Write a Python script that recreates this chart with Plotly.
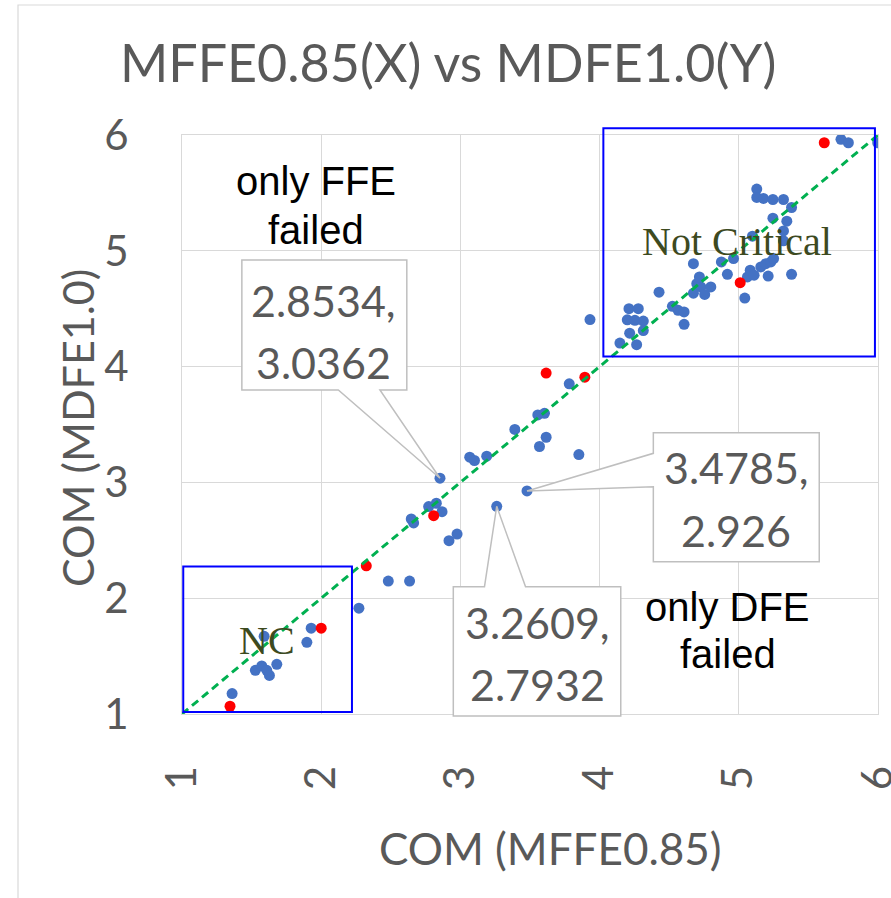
import plotly.graph_objects as go

# ---- data -------------------------------------------------------------
# COM values: x = MFFE0.85, y = MDFE1.0
blue_x = [1.360, 1.527, 1.573, 1.609, 1.628, 1.681, 1.590, 1.897, 1.928, 2.271,
          2.482, 2.635, 2.647, 2.664, 2.772, 2.827, 2.868, 2.8534, 2.918, 2.976,
          3.067, 3.101, 3.189, 3.2609, 3.4785, 3.391, 3.556, 3.604, 3.616, 3.568,
          3.782, 3.851, 3.931,
          4.146, 4.266, 4.216, 4.199, 4.254, 4.314, 4.314, 4.211, 4.278, 4.427,
          4.523, 4.564, 4.607, 4.607, 4.674, 4.698, 4.727, 4.755, 4.799, 4.717,
          4.674, 4.875, 4.962, 4.918, 5.043, 5.062, 5.082, 5.110, 5.158, 5.194,
          5.230, 5.250, 5.211, 5.379, 5.098, 5.321, 5.321, 5.345, 5.245, 5.379,
          5.129, 5.129, 5.177, 5.245, 5.321, 5.734, 5.787, 5.998]
blue_y = [1.176, 1.377, 1.415, 1.377, 1.333, 1.429, 1.671, 1.619, 1.741, 1.914,
          2.148, 2.148, 2.684, 2.650, 2.791, 2.820, 2.747, 3.0362, 2.497, 2.554,
          3.218, 3.189, 3.226, 2.7932, 2.926, 3.457, 3.583, 3.597, 3.390, 3.310,
          3.851, 3.240, 4.406,
          4.203, 4.189, 4.289, 4.404, 4.400, 4.393, 4.311, 4.500, 4.500, 4.643,
          4.521, 4.486, 4.472, 4.365, 4.634, 4.716, 4.688, 4.623, 4.688, 4.774,
          4.889, 4.904, 4.933, 4.797, 4.592, 4.774, 4.832, 4.789, 4.861, 4.889,
          4.904, 4.933, 4.782, 4.797, 5.126, 5.086, 5.172, 5.256, 5.282, 5.374,
          5.533, 5.461, 5.452, 5.443, 5.443, 5.963, 5.933, 5.933]

red_x = [1.345, 2.000, 2.324, 2.808, 3.616, 3.894, 5.010, 5.614]
red_y = [1.067, 1.741, 2.280, 2.713, 3.944, 3.909, 4.725, 5.933]

diag = [1, 6]                      # y = x reference line

# points that carry a value callout
callout_pts = [(2.8534, 3.0362), (3.4785, 2.926), (3.2609, 2.7932)]

tick_vals = [1, 2, 3, 4, 5, 6]

# ---- layout helpers ---------------------------------------------------
X0, X1, Y0, Y1 = 1.0, 6.0, 1.0, 6.0
W, H = 891, 898
ML, MR, MT, MB = 182, 13, 135, 184
PW, PH = W - ML - MR, H - MT - MB


def px(x):       # data x -> paper
    return (x - X0) / (X1 - X0)


def py(y):       # data y -> paper
    return (y - Y0) / (Y1 - Y0)


def pix_x(p):    # pixel column -> paper
    return (p - ML) / PW


def pix_y(p):    # pixel row -> paper
    return (H - MB - p) / PH


GREY = "#595959"
NUM_FONT = "Lato, 'Open Sans', sans-serif"

fig = go.Figure()

fig.add_trace(go.Scatter(x=blue_x, y=blue_y, mode="markers",
                         marker=dict(color="#4472C4", size=11, line=dict(width=0)),
                         hoverinfo="x+y"))
fig.add_trace(go.Scatter(x=red_x, y=red_y, mode="markers",
                         marker=dict(color="#FF0000", size=11, line=dict(width=0)),
                         hoverinfo="x+y"))
fig.add_trace(go.Scatter(x=diag, y=diag, mode="lines",
                         line=dict(color="#00B050", width=3, dash="8px,5px"),
                         hoverinfo="skip"))

shapes = []
annotations = []

# outer chart frame
shapes.append(dict(type="rect", xref="paper", yref="paper",
                   x0=pix_x(18), x1=pix_x(905), y0=pix_y(5), y1=pix_y(910),
                   line=dict(color="#d9d9d9", width=1.2), fillcolor="rgba(0,0,0,0)",
                   layer="below"))

# region boxes
shapes.append(dict(type="rect", xref="paper", yref="paper",
                   x0=px(4.027), x1=px(5.978), y0=py(4.088), y1=py(6.058),
                   line=dict(color="#0000FF", width=2)))
shapes.append(dict(type="rect", xref="paper", yref="paper",
                   x0=px(1.009), x1=px(2.221), y0=py(1.017), y1=py(2.274),
                   line=dict(color="#0000FF", width=2)))

# callout boxes: (left, right, bottom, top) in data units, wedge side and base span
callouts = [
    dict(box=(1.430, 2.615, 3.798, 4.920), side="bottom", base=(2.123, 2.422),
         text_xy=(2.017, (4.57, 4.035))),
    dict(box=(4.386, 5.578, 2.315, 3.429), side="left", base=(3.251, 2.963),
         text_xy=(4.983, (3.125, 2.585))),
    dict(box=(2.949, 4.152, 0.983, 2.099), side="top", base=(3.173, 3.468),
         text_xy=(3.553, (1.788, 1.255))),
]

for (vx, vy), c in zip(callout_pts, callouts):
    l, r, b, t = c["box"]
    b0, b1 = c["base"]
    tip = f"L{px(vx)},{py(vy)} "
    if c["side"] == "bottom":
        path = (f"M{px(l)},{py(t)} L{px(r)},{py(t)} L{px(r)},{py(b)} "
                f"L{px(b1)},{py(b)} " + tip + f"L{px(b0)},{py(b)} L{px(l)},{py(b)} Z")
    elif c["side"] == "left":
        path = (f"M{px(l)},{py(t)} L{px(r)},{py(t)} L{px(r)},{py(b)} "
                f"L{px(l)},{py(b)} L{px(l)},{py(b1)} " + tip + f"L{px(l)},{py(b0)} Z")
    else:
        path = (f"M{px(l)},{py(t)} L{px(b0)},{py(t)} " + tip +
                f"L{px(b1)},{py(t)} L{px(r)},{py(t)} L{px(r)},{py(b)} L{px(l)},{py(b)} Z")
    shapes.append(dict(type="path", xref="paper", yref="paper", path=path,
                       fillcolor="white", line=dict(color="#BFBFBF", width=1.5)))
    tx, (ty1, ty2) = c["text_xy"]
    for txt, ty in ((f"{vx},", ty1), (f"{vy}", ty2)):
        annotations.append(dict(xref="paper", yref="paper", x=px(tx), y=py(ty),
                                text=txt, showarrow=False, xanchor="center",
                                yanchor="middle",
                                font=dict(family=NUM_FONT, size=43, color=GREY)))

# region labels
for txt, x, y in (("only FFE", 1.963, 5.600), ("failed", 1.963, 5.180),
                  ("only DFE", 4.920, 1.925), ("failed", 4.920, 1.515)):
    annotations.append(dict(xref="paper", yref="paper", x=px(x), y=py(y), text=txt,
                            showarrow=False, xanchor="center", yanchor="middle",
                            font=dict(family="Liberation Sans, Arial, sans-serif",
                                      size=40, color="black")))

for txt, x, y in (("Not Critical", 4.990, 5.076), ("NC", 1.614, 1.639)):
    annotations.append(dict(xref="paper", yref="paper", x=px(x), y=py(y), text=txt,
                            showarrow=False, xanchor="center", yanchor="middle",
                            font=dict(family="Liberation Serif, serif",
                                      size=40, color="#3D4A1F")))

# title and axis titles
annotations.append(dict(xref="paper", yref="paper", x=pix_x(448), y=pix_y(62),
                        text="MFFE0.85(X) vs MDFE1.0(Y)", showarrow=False,
                        xanchor="center", yanchor="middle",
                        font=dict(family=NUM_FONT, size=52, color=GREY)))
annotations.append(dict(xref="paper", yref="paper", x=pix_x(550), y=pix_y(848),
                        text="COM (MFFE0.85)", showarrow=False,
                        xanchor="center", yanchor="middle",
                        font=dict(family=NUM_FONT, size=44, color=GREY)))
annotations.append(dict(xref="paper", yref="paper", x=pix_x(78), y=pix_y(428),
                        text="COM (MDFE1.0)", showarrow=False, textangle=-90,
                        xanchor="center", yanchor="middle",
                        font=dict(family=NUM_FONT, size=43, color=GREY)))

axis_common = dict(range=[X0, X1], tickmode="array", tickvals=tick_vals,
                   ticktext=[str(v) for v in tick_vals],
                   showgrid=True, gridcolor="#d9d9d9", gridwidth=1.2,
                   zeroline=False, showline=True, mirror=True,
                   linecolor="#d9d9d9", linewidth=1.2, ticks="",
                   automargin=False, ticklabeloverflow="allow",
                   tickfont=dict(family=NUM_FONT, size=42, color=GREY))

fig.update_layout(
    width=W, height=H, autosize=False,
    margin=dict(l=ML, r=MR, t=MT, b=MB, pad=0, autoexpand=False),
    paper_bgcolor="white", plot_bgcolor="white",
    showlegend=False,
    xaxis=dict(axis_common, tickangle=-90, ticklabelstandoff=34),
    yaxis=dict(axis_common, range=[Y0, Y1], ticklabelstandoff=44),
    shapes=shapes, annotations=annotations,
)

fig.write_html("out.html")
